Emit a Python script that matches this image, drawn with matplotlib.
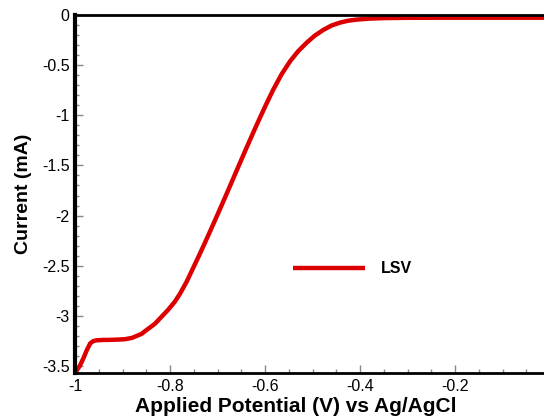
import numpy as np
import matplotlib
matplotlib.use('Agg')
import matplotlib.pyplot as plt
from matplotlib.ticker import MultipleLocator

# LSV curve (V vs Ag/AgCl, mA)
potential = [-1.0, -0.99, -0.982, -0.975, -0.968, -0.962, -0.955, -0.94, -0.93, -0.91,
             -0.895, -0.88, -0.86, -0.849, -0.832, -0.814, -0.804, -0.79, -0.779,
             -0.765, -0.751, -0.737, -0.723, -0.709, -0.695, -0.683, -0.670, -0.655,
             -0.639, -0.625, -0.611, -0.597, -0.583, -0.565, -0.547, -0.530, -0.512,
             -0.495, -0.477, -0.46, -0.442, -0.425, -0.407, -0.38, -0.35, -0.3,
             -0.2, 0.0]
current = [-3.57, -3.50, -3.42, -3.34, -3.275, -3.253, -3.244, -3.24, -3.24, -3.237,
           -3.233, -3.22, -3.18, -3.14, -3.08, -2.99, -2.94, -2.86, -2.78,
           -2.66, -2.52, -2.38, -2.235, -2.087, -1.937, -1.807, -1.665, -1.50,
           -1.325, -1.175, -1.028, -0.885, -0.748, -0.59, -0.46, -0.36, -0.275,
           -0.205, -0.148, -0.105, -0.076, -0.057, -0.046, -0.036, -0.031, -0.028,
           -0.027, -0.027]

plt.rcParams['font.family'] = ['Liberation Sans', 'DejaVu Sans']

fig = plt.figure(figsize=(5.44, 4.18), dpi=100)
ax = fig.add_axes([75/544, 45/418, 475/544, 358/418])

ax.plot(potential, current, color='#dd0000', lw=3.2, label='LSV', solid_capstyle='butt')

ax.set_xlim(-1.0, 0.0)
ax.set_ylim(-3.57, 0.0)
ax.xaxis.set_minor_locator(MultipleLocator(0.05))
ax.yaxis.set_minor_locator(MultipleLocator(0.1))
ax.set_xticks([-1, -0.8, -0.6, -0.4, -0.2])
ax.set_xticklabels(['-1', '-0.8', '-0.6', '-0.4', '-0.2'])
ax.set_yticks([0, -0.5, -1, -1.5, -2, -2.5, -3, -3.5])
ax.set_yticklabels(['0', '-0.5', '-1', '-1.5', '-2', '-2.5', '-3', '-3.5'])

ax.tick_params(which='major', direction='in', length=6, width=1, color='#888888',
               labelsize=11.5, top=False, right=False, pad=4)
ax.tick_params(which='minor', direction='in', length=3, width=1, color='#888888',
               top=False, right=False)

ax.spines['left'].set_linewidth(3)
ax.spines['bottom'].set_linewidth(2)
ax.spines['top'].set_linewidth(2)
ax.spines['right'].set_visible(False)

ax.set_xlabel('Applied Potential (V) vs Ag/AgCl', fontsize=15, fontweight='bold')
ax.xaxis.set_label_coords(0.465, -0.068)
ax.set_ylabel('Current (mA)', fontsize=14, fontweight='bold', labelpad=7)

leg = ax.legend(loc='center left', bbox_to_anchor=(0.428, 0.291), frameon=False,
                handlelength=4.5, handletextpad=1.0,
                prop={'weight': 'bold', 'size': 11.5})

fig.savefig('out.png', dpi=100)
